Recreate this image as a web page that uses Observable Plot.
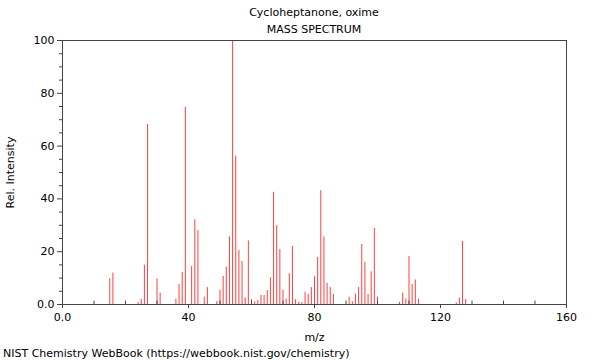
<!DOCTYPE html>
<html>
<head>
<meta charset="utf-8">
<script src="https://cdn.jsdelivr.net/npm/d3@7"></script>
<script src="https://cdn.jsdelivr.net/npm/@observablehq/plot@0.6"></script>
<style>
  html, body { margin: 0; padding: 0; background: #fff; }
  #wrap { position: relative; width: 600px; height: 360px; font-family: "DejaVu Sans", sans-serif; font-size: 11px; color: #000; }
  .t { position: absolute; left: 0; width: 628px; text-align: center; white-space: nowrap; }
  #cap { position: absolute; left: 3px; top: 347px; white-space: nowrap; }
</style>
</head>
<body>
<div id="wrap">
  <div class="t" id="t1" style="top:6px">Cycloheptanone, oxime</div>
  <div class="t" id="t2" style="top:23px">MASS SPECTRUM</div>
  <div id="chart"></div>
  <div id="cap">NIST Chemistry WebBook (https://webbook.nist.gov/chemistry)</div>
</div>
<script>
const mz = [15,16,24,25,26,27,30,31,36,37,38,39,41,42,43,45,46,49,50,51,52,53,54,55,56,57,58,59,60,61,62,63,64,65,66,67,68,69,70,71,72,73,74,75,76,77,78,79,80,81,82,83,84,85,86,91,92,93,94,95,96,97,98,99,100,107,108,109,110,111,112,113,125,126,127,128];
const intensity = [9.8,11.9,0.8,2,14.9,68.2,9.7,4.3,2,7.6,12.1,74.7,14.4,32.1,28,2.8,6.4,1.1,5.4,10.7,14.1,25.6,100,56.2,20.5,16.3,2.5,24.1,1.8,1,1.5,3.4,3.4,5.3,10.1,42.5,29.9,20.8,5.4,2,11.7,22,1.8,0.8,0.7,4.7,3.8,6.4,10.5,17.8,43.1,25.6,8,6.4,3.8,2.7,1.1,4,6.4,22.7,16,3.8,12.4,28.8,2.8,0.8,4.3,2.1,18.2,7.6,9.3,2,0.6,2.4,23.9,1.9];
const xMajor = [0,40,80,120,160];
const xMinor = [10,20,30,50,60,70,90,100,110,130,140,150];
const yMajor = [0,20,40,60,80,100];
const yMinor = [5,10,15,25,30,35,45,50,55,65,70,75,85,90,95];
const fmt = d => d === 0 ? "0.0" : String(d);

const data = mz.map((m, i) => ({mz: m, rel: intensity[i]}));

const chart = Plot.plot({
  width: 600,
  height: 360,
  marginTop: 40,
  marginBottom: 56,
  marginLeft: 62,
  marginRight: 34,
  style: {fontFamily: "DejaVu Sans, sans-serif", fontSize: "11px", color: "#000", background: "transparent", overflow: "visible"},
  x: {domain: [0, 160]},
  y: {domain: [0, 100]},
  marks: [
    Plot.ruleX(data, {x: "mz", y1: 0, y2: "rel", stroke: "#ff4040", strokeWidth: 1, shapeRendering: "geometricPrecision"}),
    Plot.ruleX(xMinor, {x: d => d, y1: 0, y2: 1.3, stroke: "#444"}),
    Plot.axisX({ticks: xMajor, tickSize: 4, tickPadding: 5, tickFormat: fmt, stroke: "#444",
      label: "m/z", labelAnchor: "center", labelArrow: "none", labelOffset: 36}),
    Plot.axisY({ticks: yMajor, tickSize: 5, tickPadding: 3, tickFormat: fmt, stroke: "#444",
      label: "Rel. Intensity", labelAnchor: "center", labelArrow: "none", labelOffset: 56}),
    Plot.axisY({ticks: yMinor, tickSize: 3, tickFormat: () => "", stroke: "#444", label: null}),
    Plot.frame({stroke: "#444"})
  ]
});
document.getElementById("chart").appendChild(chart);
</script>
</body>
</html>
